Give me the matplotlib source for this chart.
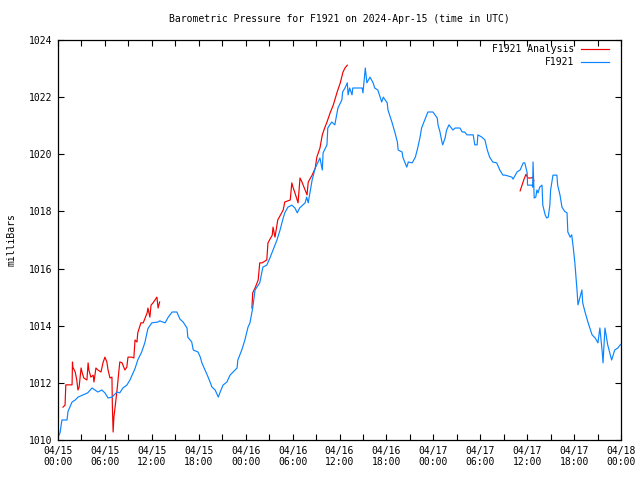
import numpy as np
import pandas as pd
import matplotlib
matplotlib.use("Agg")
import matplotlib.pyplot as plt
import matplotlib.dates as mdates

START = pd.Timestamp("2024-04-15 00:00")

# F1921 station pressure: hours after START, milliBars
obs_hours = [
    0.0, 0.26, 0.5, 1.15, 1.28, 1.8, 2.2, 2.55, 3.8, 4.35, 5.1, 5.6, 6.0, 6.4,
    6.9, 7.55, 7.9, 8.3, 8.8, 9.2, 9.85, 10.2, 10.7, 11.1, 11.5, 12.0, 12.8,
    13.0, 13.7, 14.1, 14.6, 15.2, 15.6, 16.0, 16.5, 16.6, 17.1, 17.3, 17.9,
    18.2, 18.4, 18.8, 19.2, 19.7, 20.1, 20.5, 20.7, 21.1, 21.6, 22.0, 22.4,
    22.9, 23.0, 23.5, 23.9, 24.3, 24.55, 24.9, 25.2, 25.8, 26.2, 26.7, 27.1,
    27.5, 28.0, 28.4, 28.8, 29.0, 29.4, 29.9, 30.3, 30.6, 30.9, 31.6, 31.8,
    32.0, 32.5, 32.9, 33.5, 33.8, 33.9, 34.4, 34.5, 35.0, 35.4, 35.8, 36.3,
    36.4, 36.7, 37.0, 37.1, 37.3, 37.6, 37.7, 38.9, 39.0, 39.3, 39.5, 39.9,
    40.3, 40.5, 40.9, 41.2, 41.4, 41.6, 42.1, 42.2, 42.7, 43.1, 43.4, 43.5,
    44.0, 44.1, 44.6, 44.8, 45.3, 45.7, 46.0, 46.3, 46.5, 46.9, 47.3, 47.95,
    48.5, 48.6, 48.85, 49.1, 49.2, 49.5, 49.7, 50.0, 50.5, 50.8, 51.4, 51.7,
    52.0, 52.3, 53.1, 53.3, 53.6, 53.7, 54.2, 54.6, 54.9, 55.2, 55.6, 56.1,
    56.5, 56.9, 57.2, 58.05, 58.2, 58.7, 59.1, 59.5, 59.7, 60.0, 60.05, 60.6,
    60.7, 60.75, 60.9, 61.1, 61.25, 61.4, 61.6, 61.9, 62.0, 62.3, 62.5, 62.7,
    62.9, 63.0, 63.2, 63.3, 63.8, 63.9, 64.2, 64.45, 64.8, 65.1, 65.2, 65.5,
    65.7, 65.9, 66.1, 66.4, 66.5, 67.0, 67.1, 67.4, 67.8, 68.3, 68.7, 69.05,
    69.3, 69.6, 69.7, 69.95, 70.3, 70.8, 71.2, 71.6, 71.9, 72.0,
]
obs_mb = [
    1010.1, 1010.25, 1010.7, 1010.7, 1011.0, 1011.33, 1011.4, 1011.5, 1011.65,
    1011.82, 1011.68, 1011.75, 1011.65, 1011.47, 1011.5, 1011.68, 1011.65,
    1011.82, 1011.92, 1012.1, 1012.5, 1012.8, 1013.08, 1013.4, 1013.9, 1014.1,
    1014.13, 1014.17, 1014.1, 1014.3, 1014.48, 1014.48, 1014.23, 1014.13,
    1013.92, 1013.6, 1013.43, 1013.15, 1013.08, 1012.9, 1012.7, 1012.45,
    1012.2, 1011.85, 1011.75, 1011.5, 1011.65, 1011.92, 1012.03, 1012.27,
    1012.38, 1012.52, 1012.8, 1013.15, 1013.5, 1013.95, 1014.1, 1014.62,
    1015.25, 1015.5, 1016.05, 1016.12, 1016.37, 1016.65, 1017.0, 1017.35,
    1017.77, 1017.95, 1018.15, 1018.22, 1018.12, 1017.95, 1018.12, 1018.3,
    1018.5, 1018.3, 1019.1, 1019.52, 1019.87, 1019.45, 1020.05, 1020.33,
    1020.92, 1021.13, 1021.03, 1021.62, 1021.9, 1022.18, 1022.32, 1022.5,
    1022.08, 1022.32, 1022.08, 1022.32, 1022.32, 1022.15, 1023.02, 1022.5,
    1022.7, 1022.5, 1022.32, 1022.25, 1022.0, 1021.83, 1022.0, 1021.8,
    1021.55, 1021.13, 1020.75, 1020.43, 1020.15, 1020.08, 1019.9, 1019.55,
    1019.73, 1019.7, 1019.9, 1020.22, 1020.6, 1020.92, 1021.2, 1021.48,
    1021.48, 1021.27, 1021.03, 1020.78, 1020.43, 1020.33, 1020.57, 1020.85,
    1021.03, 1020.85, 1020.92, 1020.92, 1020.78, 1020.78, 1020.68, 1020.68,
    1020.33, 1020.33, 1020.68, 1020.6, 1020.5, 1020.15, 1019.9, 1019.73,
    1019.7, 1019.45, 1019.27, 1019.27, 1019.2, 1019.13, 1019.38, 1019.45,
    1019.7, 1019.7, 1019.35, 1018.92, 1018.92, 1018.85, 1019.73, 1018.47,
    1018.5, 1018.75, 1018.65, 1018.85, 1018.92, 1018.22, 1017.88, 1017.77,
    1017.8, 1018.22, 1018.75, 1019.1, 1019.27, 1019.27, 1018.92, 1018.57,
    1018.15, 1018.0, 1017.95, 1017.28, 1017.1, 1017.18, 1016.72, 1016.2,
    1015.15, 1014.73, 1015.25, 1014.8, 1014.48, 1014.1, 1013.68, 1013.57,
    1013.4, 1013.92, 1013.08, 1012.7, 1013.92, 1013.33, 1012.8, 1013.15,
    1013.22, 1013.33, 1013.35,
]

# F1921 Analysis: three runs, separated by gaps (NaN)
ana_hours = [
    0.64, 0.9, 1.0, 1.8, 1.85, 1.9, 2.2, 2.4, 2.55, 2.7, 2.95, 3.1, 3.3, 3.7,
    3.85, 3.95, 4.2, 4.5, 4.6, 4.85, 5.1, 5.5, 5.75, 6.0, 6.25, 6.4, 6.65,
    6.9, 6.95, 7.05, 7.15, 7.3, 7.55, 7.7, 7.9, 8.2, 8.55, 8.8, 8.95, 9.45,
    9.7, 9.85, 10.1, 10.2, 10.6, 10.9, 11.4, 11.5, 11.75, 11.9, 12.15, 12.65,
    12.8, 13.0,
    13.5,
    24.8, 24.9, 25.2, 25.6, 25.8, 26.1, 26.7, 26.85, 27.4, 27.5, 27.75, 28.0,
    28.1, 28.6, 28.8, 29.0, 29.7, 29.9, 30.05, 30.3, 30.7, 30.95, 31.2, 31.6,
    31.85, 32.0, 32.5, 32.9, 33.1, 33.5, 33.8, 34.1, 34.4, 34.8, 35.2, 35.7,
    36.1, 36.45, 36.7, 37.0,
    37.5,
    59.1, 59.6, 59.85, 60.1, 60.5, 60.75, 60.85,
]
ana_mb = [
    1011.15, 1011.22, 1011.93, 1011.93, 1012.73, 1012.55, 1012.38, 1012.1,
    1011.75, 1011.85, 1012.52, 1012.35, 1012.17, 1012.1, 1012.7, 1012.45,
    1012.2, 1012.27, 1012.03, 1012.52, 1012.45, 1012.38, 1012.7, 1012.9,
    1012.73, 1012.45, 1012.17, 1012.2, 1011.22, 1010.28, 1010.8, 1011.15,
    1011.75, 1012.17, 1012.73, 1012.7, 1012.45, 1012.55, 1012.9, 1012.9,
    1012.87, 1013.5, 1013.43, 1013.75, 1014.1, 1014.1, 1014.45, 1014.62,
    1014.3, 1014.72, 1014.8, 1015.0, 1014.62, 1014.83,
    np.nan,
    1014.62, 1015.15, 1015.32, 1015.6, 1016.2, 1016.2, 1016.3, 1016.9,
    1017.17, 1017.45, 1017.1, 1017.52, 1017.7, 1017.95, 1018.05, 1018.33,
    1018.4, 1019.0, 1018.85, 1018.65, 1018.3, 1019.17, 1019.03, 1018.75,
    1018.58, 1019.03, 1019.27, 1019.52, 1019.9, 1020.22, 1020.68, 1020.92,
    1021.13, 1021.45, 1021.72, 1022.18, 1022.5, 1022.88, 1023.02, 1023.12,
    np.nan,
    1018.72, 1019.13, 1019.3, 1019.17, 1019.17, 1019.2, 1019.07,
]

plt.rcParams["font.family"] = ["DejaVu Sans Mono"]
plt.rcParams["font.size"] = 7

BLUE = "#0a84ff"
RED = "#f00000"
LW = 0.85

obs_t = START + pd.to_timedelta(obs_hours, unit="h")
ana_t = START + pd.to_timedelta(ana_hours, unit="h")

fig = plt.figure(figsize=(6.4, 4.8), dpi=100)
ax = fig.add_axes([58 / 640, 40 / 480, 563 / 640, 400 / 480])

ax.plot(ana_t, ana_mb, color=RED, lw=LW)
ax.plot(obs_t, obs_mb, color=BLUE, lw=LW)

ax.set_xlim(START, START + pd.Timedelta(hours=72))
ax.set_ylim(1010, 1024)
ax.set_yticks(np.arange(1010, 1025, 2))
ax.xaxis.set_major_locator(mdates.HourLocator(byhour=[0, 6, 12, 18]))
ax.xaxis.set_minor_locator(mdates.HourLocator(byhour=[3, 9, 15, 21]))
ax.xaxis.set_major_formatter(mdates.DateFormatter("%m/%d\n%H:%M"))
ax.tick_params(which="both", direction="in", top=True, right=True,
               length=4, width=0.8, labelsize=7, pad=4)
for s in ax.spines.values():
    s.set_linewidth(0.9)

ax.set_ylabel("milliBars", labelpad=9)
ax.set_title("Barometric Pressure for F1921 on 2024-Apr-15 (time in UTC)",
             fontsize=7, pad=13)

# gnuplot-style key: label right-aligned, sample line to its right
for y, lab, col in [(0.977, "F1921 Analysis", RED), (0.945, "F1921", BLUE)]:
    ax.text(0.917, y, lab, transform=ax.transAxes, ha="right", va="center")
    ax.plot([0.929, 0.978], [y, y], transform=ax.transAxes, color=col, lw=LW)

plt.savefig("out.png", dpi=100)
